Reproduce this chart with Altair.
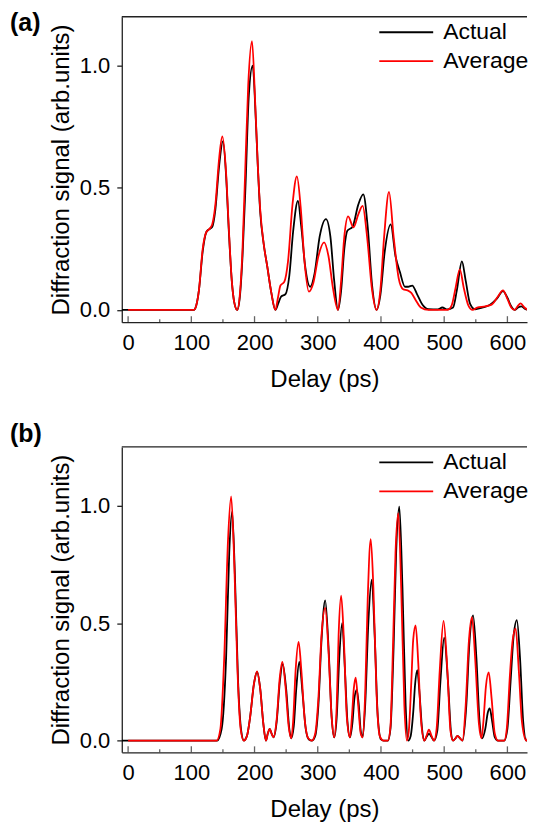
import altair as alt
import pandas as pd

series_names = ["Actual", "Average"]
series_colors = ["#000000", "#ff0000"]
panel_labels = ["(a)", "(b)"]
x_title = "Delay (ps)"
y_title = "Diffraction signal (arb.units)"
x_major = [0, 100, 200, 300, 400, 500, 600]
x_minor = [50, 150, 250, 350, 450, 550]
y_ticks = [0.0, 0.5, 1.0]

# (delay ps, signal) pairs
a_actual = [(-10,0),(104,0),(108,0.02),(112,0.08),(118,0.24),(124,0.32),(128,0.33),(133,0.34),(138,0.41),(144,0.59),(150,0.69),(155,0.55),(159,0.34),(164,0.12),(168,0.03),(172.5,0),(177,0.06),(181,0.22),(185.6,0.5),(191,0.88),(197,1.0),(202,0.78),(205,0.6),(209,0.4),(214.5,0.27),(220,0.18),(226.6,0.07),(233,0),(238,0.03),(242,0.055),(249,0.065),(255,0.14),(261,0.32),(268.6,0.446),(274,0.34),(280,0.18),(288,0.095),(295,0.15),(303,0.3),(313,0.372),(320,0.3),(326,0.12),(332,0),(337,0.08),(342,0.25),(347,0.325),(355,0.34),(364,0.43),(372,0.473),(379,0.34),(386,0.1),(393,0),(399,0.06),(406,0.24),(415.4,0.35),(423,0.22),(430,0.155),(438,0.095),(443,0.095),(449.5,0.10),(457,0.065),(466,0.02),(475,0.003),(490,0.002),(497,0.01),(505,0.002),(514,0.01),(520,0.08),(528,0.199),(534,0.12),(541,0.025),(549,0.003),(560,0.01),(572,0.02),(583,0.045),(593,0.077),(600,0.05),(606,0.015),(611.5,0),(617,0.01),(622,0.015),(628,0.004),(635,0),(643,0.02)]
a_average = [(0,0),(104,0),(108,0.02),(112,0.08),(118,0.25),(124,0.32),(128,0.33),(133,0.35),(138,0.43),(144,0.62),(149,0.71),(155,0.56),(159,0.35),(164,0.12),(168,0.03),(172.5,0),(177,0.07),(181,0.25),(185,0.55),(190,0.92),(196,1.10),(201,0.85),(205,0.6),(209,0.41),(214.5,0.27),(220,0.18),(226.6,0.07),(233,0),(237,0.05),(241,0.1),(247,0.115),(253,0.2),(260,0.43),(267,0.547),(273,0.42),(279,0.2),(286,0.075),(293,0.11),(301,0.22),(310,0.277),(317,0.22),(324,0.09),(332,0),(337,0.12),(342,0.3),(348,0.383),(356.5,0.338),(364,0.39),(371,0.426),(378,0.3),(386,0.08),(393,0),(399,0.08),(405,0.3),(412.7,0.483),(420,0.3),(428,0.13),(435,0.085),(442,0.08),(448,0.07),(455,0.04),(463,0.01),(475,0),(505,0),(512,0.02),(518,0.09),(524.7,0.166),(531,0.09),(538,0.02),(545,0),(552,0.01),(565,0.015),(575,0.022),(585,0.055),(593,0.08),(600,0.045),(606,0.01),(611.5,0),(616,0.015),(621,0.027),(627,0.01),(633,0),(638,0.005),(643,0.025)]
b_actual = [(-10,0),(141,0),(148,0.05),(155,0.35),(160,0.8),(164.5,0.975),(169,0.7),(174,0.25),(179,0.04),(183,0),(188,0.02),(193,0.1),(199,0.24),(204,0.292),(209,0.22),(214,0.07),(218,0),(221,0.03),(224,0.05),(227,0.03),(230,0.014),(235,0.08),(240,0.25),(244.5,0.325),(250,0.22),(255,0.05),(258,0.01),(262,0.06),(266,0.22),(270.8,0.335),(276,0.2),(281,0.05),(286,0.005),(290.7,0),(296,0.02),(301,0.15),(306,0.43),(311.8,0.597),(317,0.4),(322,0.1),(326,0.014),(330,0.1),(334,0.35),(338.6,0.5),(343,0.3),(347,0.08),(351,0.014),(355,0.08),(358,0.18),(361.7,0.216),(365,0.15),(368,0.04),(371,0.014),(375,0.15),(380,0.5),(385.4,0.685),(390,0.45),(395,0.1),(400,0.005),(404,0),(411,0),(415,0.05),(420,0.4),(424,0.8),(429,0.996),(434,0.65),(439,0.15),(443,0),(447,0.02),(451,0.12),(454,0.24),(457.4,0.3),(461,0.2),(465,0.05),(468.5,0),(472,0.015),(476,0.03),(480,0.015),(484,0),(489,0.04),(494,0.25),(500,0.438),(506,0.25),(511,0.03),(514,0),(518,0.01),(521,0.02),(525,0.01),(529,0),(535,0.15),(540,0.42),(545.7,0.533),(551,0.35),(556,0.08),(560,0.01),(565,0.05),(569,0.12),(572,0.137),(576,0.08),(580,0.015),(585,0),(595,0),(600,0.05),(605,0.25),(610,0.45),(615,0.513),(620,0.35),(625,0.08),(630,0),(635,0.015),(640,0.04),(643,0.03)]
b_average = [(0,0),(140,0),(146,0.05),(152,0.35),(158,0.85),(163,1.04),(168,0.75),(173,0.3),(178,0.05),(183,0),(188,0.02),(193,0.1),(199,0.24),(204,0.295),(209,0.22),(214,0.07),(218,0),(221,0.03),(224,0.05),(227,0.03),(230,0.014),(235,0.09),(240,0.27),(244,0.335),(249,0.23),(254,0.06),(258,0.01),(261,0.08),(265,0.3),(269.7,0.42),(274,0.3),(279,0.1),(285,0.01),(290.7,0),(296,0.03),(301,0.18),(306,0.45),(311.8,0.565),(317,0.38),(322,0.1),(326,0.014),(330,0.15),(333,0.45),(337,0.617),(341,0.45),(346,0.1),(351,0.014),(354,0.1),(357,0.22),(360,0.268),(364,0.15),(368,0.03),(371,0.014),(375,0.2),(379,0.6),(383.8,0.857),(388,0.65),(393,0.2),(398,0.02),(404,0),(411,0),(415,0.06),(419,0.4),(423,0.8),(427.4,0.968),(432,0.65),(437,0.15),(441,0),(444,0.04),(448,0.25),(451,0.43),(454.8,0.49),(459,0.33),(463,0.1),(468.5,0),(472,0.02),(475.8,0.047),(480,0.02),(484,0),(488,0.05),(493,0.3),(499,0.51),(505,0.3),(510,0.04),(514,0),(518,0.01),(521,0.02),(525,0.01),(529,0),(534,0.15),(539,0.42),(544,0.525),(549,0.35),(555,0.07),(559,0.01),(562,0.08),(566,0.23),(570.4,0.29),(575,0.18),(580,0.03),(585,0),(595,0),(599,0.05),(604,0.28),(608,0.42),(613,0.478),(618,0.3),(623,0.08),(630,0),(634,0.03),(638,0.066),(643,0.03)]

FONT = "Liberation Sans"
AXIS_COLOR = "#222222"
W, H = 406, 306
X_DOMAIN = [-10, 631]
Y_MIN = -0.05


def to_df(actual, average):
    rows = [(x, y, series_names[0], i) for i, (x, y) in enumerate(actual)]
    rows += [(x, y, series_names[1], i) for i, (x, y) in enumerate(average)]
    return pd.DataFrame(rows, columns=["delay", "signal", "series", "idx"])


def panel(actual, average, ymax, label, label_dy):
    df = to_df(actual, average)
    xs = alt.Scale(domain=X_DOMAIN, nice=False, zero=False)
    ys = alt.Scale(domain=[Y_MIN, ymax], nice=False, zero=False)
    x_axis = alt.Axis(title=x_title, values=x_major, format="d", ticks=False, tickSize=0,
                      labelPadding=10, titlePadding=14, grid=False)
    y_axis = alt.Axis(title=y_title, values=y_ticks, format=".1f", tickSize=5,
                      labelPadding=7, titlePadding=6, grid=False)

    def X(field):
        return alt.X(field, scale=xs, axis=x_axis)

    def Y(field):
        return alt.Y(field, scale=ys, axis=y_axis)

    lines = alt.Chart(df).mark_line(interpolate="monotone", strokeWidth=1.8, clip=True).encode(
        x=X("delay:Q"),
        y=Y("signal:Q"),
        color=alt.Color("series:N", scale=alt.Scale(domain=series_names, range=series_colors),
                        legend=alt.Legend(orient="none", legendX=257, legendY=4, title=None,
                                          symbolType="stroke", symbolSize=2916, symbolStrokeWidth=1.8,
                                          labelFontSize=23, labelFont=FONT, labelColor="black",
                                          clipHeight=23, rowPadding=5, labelOffset=9, padding=0)),
        order="idx:Q",
    )
    major_df = pd.DataFrame({"delay": x_major, "base": [Y_MIN] * len(x_major)})
    minor_df = pd.DataFrame({"delay": x_minor, "base": [Y_MIN] * len(x_minor)})
    major = alt.Chart(major_df).mark_tick(orient="vertical", size=6, thickness=1.3, yOffset=-3,
                                          color=AXIS_COLOR).encode(x=X("delay:Q"), y=Y("base:Q"))
    minor = alt.Chart(minor_df).mark_tick(orient="vertical", size=3, thickness=1.3, yOffset=-1.5,
                                          color=AXIS_COLOR).encode(x=X("delay:Q"), y=Y("base:Q"))
    frame_df = pd.DataFrame({"x0": [X_DOMAIN[0]], "x1": [X_DOMAIN[1]], "top": [ymax]})
    top = alt.Chart(frame_df).mark_rule(color=AXIS_COLOR, strokeWidth=1.3).encode(
        x=X("x0:Q"), x2="x1:Q", y=Y("top:Q"))
    lab = alt.Chart(pd.DataFrame({"t": [label], "delay": [X_DOMAIN[0]], "signal": [ymax]})).mark_text(
        align="left", baseline="top", font=FONT, fontSize=25, fontWeight="bold", color="black",
        dx=-112, dy=label_dy,
    ).encode(text="t:N", x=X("delay:Q"), y=Y("signal:Q"))
    return alt.layer(lines, major, minor, top, lab).properties(width=W, height=H)


pa = panel(a_actual, a_average, 1.2, panel_labels[0], -6)
pb = panel(b_actual, b_average, 1.25, panel_labels[1], -25)

chart = alt.vconcat(pa, pb, spacing=31).resolve_scale(color="independent").properties(
    padding={"left": 2, "top": 2, "right": 0, "bottom": 0}
).configure_view(stroke=None).configure_axis(
    labelFont=FONT, titleFont=FONT, labelFontSize=22, titleFontSize=24,
    titleFontWeight="normal", labelColor="black", titleColor="black",
    domainColor=AXIS_COLOR, tickColor=AXIS_COLOR, domainWidth=1.3, tickWidth=1.3,
)

chart.save("out.html", embed_options={"renderer": "svg", "actions": False})
